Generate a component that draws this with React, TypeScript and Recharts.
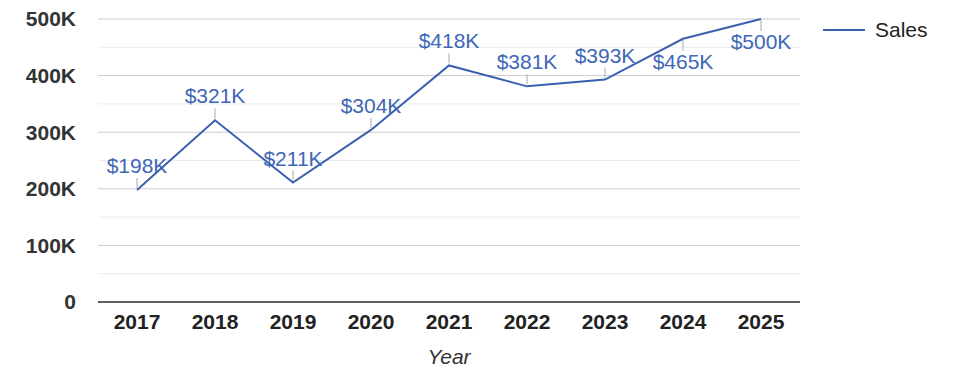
import { CartesianGrid, LabelList, Line, LineChart, ReferenceLine, XAxis, YAxis } from "recharts";

const YEARS = ["2017", "2018", "2019", "2020", "2021", "2022", "2023", "2024", "2025"];
const SALES = [198000, 321000, 211000, 304000, 418000, 381000, 393000, 465000, 500000];
const Y_TICKS = [0, 100000, 200000, 300000, 400000, 500000];
const MINOR_LINES = [50000, 150000, 250000, 350000, 450000];

const FONT = '"Liberation Sans", Arial, sans-serif';
const LINE_COLOR = "#3a60b0";
const LABEL_COLOR = "#4066b6";
const PLOT_TOP = 19;

function kFmt(v: number): string {
  return v === 0 ? "0" : `${v / 1000}K`;
}

// label with a small leader line; flips below the point when close to the top
function SalesLabel(props: any) {
  const { x, y, value } = props;
  const below = y - 34 < PLOT_TOP;
  const text = `$${Math.round(value / 1000)}K`;
  if (below) {
    return (
      <g>
        <line x1={x} y1={y + 1} x2={x} y2={y + 12} stroke="#aaa" strokeWidth={1} />
        <text x={x} y={y + 30} textAnchor="middle" fill={LABEL_COLOR} fontSize={21} fontFamily={FONT}>
          {text}
        </text>
      </g>
    );
  }
  return (
    <g>
      <line x1={x} y1={y - 2} x2={x} y2={y - 12} stroke="#aaa" strokeWidth={1} />
      <text x={x} y={y - 17} textAnchor="middle" fill={LABEL_COLOR} fontSize={21} fontFamily={FONT}>
        {text}
      </text>
    </g>
  );
}

export default function App() {
  const data = YEARS.map((y, i) => ({ year: y, sales: SALES[i] }));
  return (
    <div style={{ width: 975, height: 378, position: "relative" }}>
      <style>{`body{margin:0}`}</style>
      <LineChart width={975} height={378} data={data} margin={{ top: PLOT_TOP, right: 175, left: 0, bottom: 0 }}>
        <CartesianGrid stroke="#cccccc" vertical={false} />
        {MINOR_LINES.map((v) => (
          <ReferenceLine key={v} y={v} stroke="#ececec" strokeWidth={1} />
        ))}
        <XAxis
          dataKey="year"
          height={76}
          padding={{ left: 39, right: 39 }}
          axisLine={{ stroke: "#333", strokeWidth: 1.5 }}
          tickLine={false}
          tickMargin={6}
          tick={{ fontSize: 21, fontWeight: "bold", fill: "#222", fontFamily: FONT }}
          label={{
            value: "Year",
            position: "insideBottom",
            offset: 14,
            fontSize: 21,
            fontStyle: "italic",
            fill: "#333",
            fontFamily: FONT,
          }}
        />
        <YAxis
          width={98}
          domain={[0, 500000]}
          ticks={Y_TICKS}
          tickFormatter={kFmt}
          axisLine={false}
          tickLine={false}
          tickMargin={16}
          tick={{ fontSize: 21, fontWeight: "bold", fill: "#333", fontFamily: FONT }}
        />
        <Line
          type="linear"
          dataKey="sales"
          name="Sales"
          stroke={LINE_COLOR}
          strokeWidth={2}
          dot={false}
          activeDot={false}
          isAnimationActive={false}
        >
          <LabelList dataKey="sales" content={<SalesLabel />} />
        </Line>
      </LineChart>
      <svg width={130} height={26} style={{ position: "absolute", left: 823, top: 17 }}>
        <line x1={0} y1={13} x2={42} y2={13} stroke={LINE_COLOR} strokeWidth={2} />
        <text x={52} y={20} fontSize={21} fontFamily={FONT} fill="#222">
          Sales
        </text>
      </svg>
    </div>
  );
}
